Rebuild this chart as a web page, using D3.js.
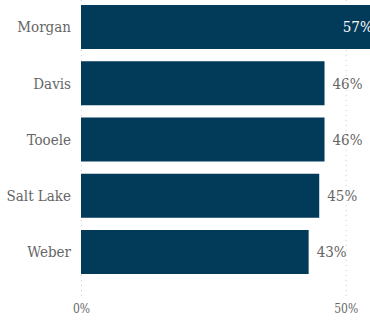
<!DOCTYPE html>
<html>
<head>
<meta charset="utf-8">
<script src="https://cdn.jsdelivr.net/npm/d3@7"></script>
<style>
  html, body { margin: 0; padding: 0; background: #fff; }
  svg { display: block; }
  svg text {
    font-family: "DejaVu Serif Condensed", "DejaVu Serif", serif;
    font-stretch: condensed;
  }
</style>
</head>
<body>
<svg id="chart" width="370" height="321"></svg>
<script>
// Counties and share values (percent)
const counties = ["Morgan", "Davis", "Tooele", "Salt Lake", "Weber"];
const shares = [57, 46, 46, 45, 43];
const tickValues = [0, 50];

const svg = d3.select("#chart");
const W = 370, H = 321;

const x = d3.scaleLinear().domain([0, 50]).range([81, 345.7]);
const y = d3.scaleBand()
  .domain(counties)
  .range([-1.125, 280.125])
  .paddingInner(0.2178)
  .paddingOuter(0.1089);

const barColor = "#023a59";
const textColor = "#666666";

// Dotted vertical gridlines
svg.append("g")
  .selectAll("line")
  .data(tickValues)
  .join("line")
  .attr("x1", d => x(d) + 0.5)
  .attr("x2", d => x(d) + 0.5)
  .attr("y1", 0)
  .attr("y2", 298)
  .attr("stroke", "#cfcfcf")
  .attr("stroke-width", 1)
  .attr("stroke-dasharray", "1,4");

// Bars
svg.append("g")
  .selectAll("rect")
  .data(counties)
  .join("rect")
  .attr("x", x(0))
  .attr("y", d => y(d))
  .attr("width", (d, i) => x(shares[i]) - x(0))
  .attr("height", y.bandwidth())
  .attr("fill", barColor);

// Category labels
svg.append("g")
  .selectAll("text")
  .data(counties)
  .join("text")
  .attr("x", 71)
  .attr("y", d => y(d) + y.bandwidth() / 2)
  .attr("dy", "0.35em")
  .attr("text-anchor", "end")
  .attr("font-size", 15)
  .attr("fill", textColor)
  .text(d => d);

// Value labels: inside the bar when it runs past the plot edge
svg.append("g")
  .selectAll("text")
  .data(counties)
  .join("text")
  .each(function (d, i) {
    const v = shares[i];
    const end = x(v);
    const inside = end > W - 30;
    d3.select(this)
      .attr("x", inside ? end - 10 : end + 8)
      .attr("text-anchor", inside ? "end" : "start")
      .attr("fill", inside ? "#ffffff" : textColor);
  })
  .attr("y", d => y(d) + y.bandwidth() / 2)
  .attr("dy", "0.35em")
  .attr("font-size", 15)
  .text((d, i) => shares[i] + "%");

// Axis tick labels
svg.append("g")
  .selectAll("text")
  .data(tickValues)
  .join("text")
  .attr("x", d => x(d) + 0.5)
  .attr("y", 309)
  .attr("dy", "0.35em")
  .attr("text-anchor", "middle")
  .attr("font-size", 12)
  .attr("fill", textColor)
  .text(d => d + "%");
</script>
</body>
</html>
